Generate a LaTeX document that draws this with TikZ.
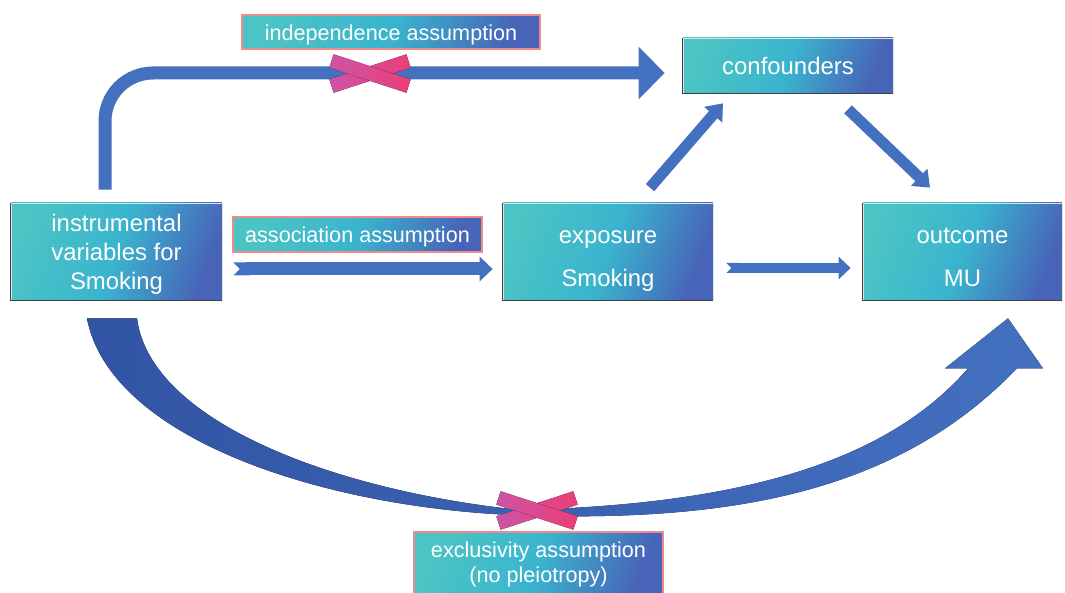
\documentclass[tikz,border=0pt]{standalone}
\usepackage{fontspec}
\setmainfont{Liberation Sans}
\usepackage{tikz}
\usetikzlibrary{arrows.meta}
\usetikzlibrary{calc}
\definecolor{boxteal}{RGB}{74,196,196}
\definecolor{boxmid}{RGB}{58,180,206}
\definecolor{boxblue}{RGB}{72,100,184}
\definecolor{arrowblue}{RGB}{68,112,192}
\definecolor{curvedark}{RGB}{50,84,164}
\definecolor{labelpink}{RGB}{242,138,138}
\definecolor{xpurple}{RGB}{204,84,166}
\definecolor{xred}{RGB}{236,62,118}
\tikzstyle{gradfill} = [left color=boxteal, right color=boxblue, middle color=boxmid, shading angle=70]
\tikzstyle{mainbox} = [gradfill, draw=black!12, text=white, inner sep=0pt, align=center, font=\fontsize{13.6}{16.5}\selectfont]
\tikzstyle{twoline} = [font=\fontsize{13.6}{24.5}\selectfont, text height=43.4pt, text depth=3pt]
\tikzstyle{labelbox} = [gradfill, draw=labelpink, line width=0.6pt, text=white, inner sep=0pt, align=center, font=\fontsize{12.3}{14.2}\selectfont]
\tikzstyle{edgedark} = [draw=black!75, line width=0.6pt]
\tikzstyle{flow} = [draw=arrowblue, line width=2.6mm]
\tikzset{crossmark/.pic={
  \foreach \a in {18,-18}
    \fill[left color=xpurple, right color=xred, rotate=\a] (-40.5,-7) rectangle (40.5,7);
}}

\begin{document}
\begin{tikzpicture}[x=0.2mm, y=-0.2mm]
				%\draw[help lines,step=100] (0,0) grid (1065,593);
				\useasboundingbox (0,0) rectangle (1065,593);
				
				\node [mainbox, minimum width=42.2mm, minimum height=19.4mm, text height=46.6pt, text depth=3pt] (iv) at (116.5,251.5) {instrumental\\variables for\\Smoking};
				\node [mainbox, twoline, minimum width=42mm, minimum height=19.4mm] (expo) at (608,251.5) {exposure\\Smoking};
				\node [mainbox, twoline, minimum width=39.8mm, minimum height=19.4mm] (out) at (962.5,251.5) {outcome\\MU};
				\node [mainbox, minimum width=42mm, minimum height=11mm] (conf) at (788,65.5) {confounders};
				\foreach \b in {iv,expo,out,conf}
					\draw [edgedark] (\b.north west) -- (\b.south west) -- (\b.south east);
				
				% bottom curved arrow (tapered)
				\coordinate (cl) at (iv.south);
				\coordinate (cr) at (out.south);
				\fill [left color=curvedark, right color=arrowblue]
					($(cl)+(20.5,18)$) .. controls (150,420) and (330,490) .. (520,510)
					.. controls (720,505) and (880,470) .. ($(cr)+(5.5,68)$)
					-- ($(cr)+(-17.5,68)$) -- ($(cr)+(45.5,18)$) -- ($(cr)+(80.5,68)$) -- ($(cr)+(54.5,68)$)
					.. controls (900,490) and (740,520) .. (540,516)
					.. controls (330,512) and (110,440) .. ($(cl)+(-29.5,18)$) -- cycle;
				
				\node [labelbox, minimum width=59.6mm, minimum height=6.8mm, text height=12.5pt, text depth=2.6pt] (indep) at (391,32) {independence assumption};
				\node [labelbox, minimum width=49.8mm, minimum height=7mm, text height=11.5pt, text depth=2.6pt] (assoc) at (357.5,234.5) {association assumption};
				\node [labelbox, minimum width=49.8mm, minimum height=13mm, text height=23.6pt, text depth=2.6pt] (excl) at (538.5,564.5) {exclusivity assumption\\(no pleiotropy)};
				
				\draw [flow, rounded corners=9.6mm, -{Triangle[length=5.2mm, width=10.2mm]}] ($(iv.north)+(-11.5,-13)$) |- ($(conf.west)+(-18,7.5)$);
				\draw [flow, {Triangle Cap[reversed]}-{Triangle[length=2.6mm, width=4.8mm]}] ($(iv.east)+(11,17.5)$) -- ($(expo.west)+(-10,17.5)$);
				\draw [flow, line width=2mm, {Triangle Cap[reversed]}-{Triangle[length=2.4mm, width=4.4mm]}] ($(expo.east)+(13,16.5)$) -- ($(out.west)+(-12,16.5)$);
				\draw [flow, line width=2.2mm, -{Triangle[length=3mm, width=4.6mm]}] ($(expo.north)+(42,-15)$) -- ($(conf.south)+(-65,10)$);
				\draw [flow, line width=2.2mm, -{Triangle[length=3mm, width=4.6mm]}] ($(conf.south)+(60,16)$) -- ($(out.north)+(-32.5,-15)$);
				
				\pic (crosstop) at ($(indep.south)+(-21,24)$) {crossmark};
				\pic (crossbot) at ($(excl.north)+(-1.5,-21)$) {crossmark};
			\end{tikzpicture}
\end{document}
